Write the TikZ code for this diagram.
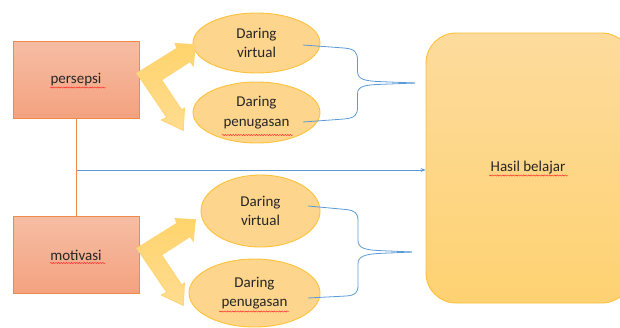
\documentclass[tikz,border=0pt]{standalone}
\usepackage{fontspec}
\setmainfont{Carlito}
\usetikzlibrary{shapes.geometric,decorations.pathmorphing,arrows.meta}
\definecolor{boxtop}{HTML}{F6BDA4}
\definecolor{boxbot}{HTML}{F4A27F}
\definecolor{boxline}{HTML}{F08A4B}
\definecolor{elfill}{HTML}{FDD58C}
\definecolor{elline}{HTML}{FFC13A}
\definecolor{hastop}{HTML}{FDDB9C}
\definecolor{hasbot}{HTML}{FED272}
\definecolor{arrtop}{HTML}{FFD46C}
\definecolor{arrbot}{HTML}{FFDC90}
\definecolor{lnblue}{HTML}{5B9BD5}
\definecolor{txt}{HTML}{262626}
\tikzset{
  srcbox/.style={draw=boxline, line width=0.9pt, top color=boxtop, bottom color=boxbot,
    minimum width=126pt, minimum height=77pt, inner sep=0pt, text=txt},
  oval/.style={ellipse, draw=elline, line width=0.9pt, fill=elfill, inner sep=0pt,
    align=center, text=txt},
  hasbox/.style={draw=elline, line width=0.9pt, top color=hastop, bottom color=hasbot,
    rounded corners=30pt, minimum width=206pt, minimum height=270pt, text=txt},
  bigarrow/.style={draw=elline!70, line width=0.8pt, top color=arrtop, bottom color=arrbot, line join=miter},
  bluelink/.style={draw=lnblue, line width=0.8pt},
  oline/.style={draw=boxline, line width=0.9pt},
  spell/.style={draw=red!85, line width=0.45pt, decorate, decoration={snake, amplitude=0.6pt, segment length=2.6pt}}
}
\begin{document}
\begin{tikzpicture}[x=1pt,y=-1pt, font=\fontsize{15}{19.5}\selectfont]
\useasboundingbox (0,0) rectangle (620,327);
\begin{scope}
\clip (0,0) rectangle (620,327);
% Hasil belajar
\node[hasbox] (hasil) at (529,168) {};
\node[text=txt] (hasiltxt) at (528,168) {Hasil belajar};
% source boxes
\node[srcbox] (pers) at (76,79.5) {persepsi};
\node[srcbox] (moti) at (76,255) {motivasi};
\draw[oline] (pers.south) -- (moti.north);
% arrow from line to hasil
\coordinate (mid) at (77,170);
\draw[bluelink, -{Stealth[length=5pt,width=4pt]}] (mid) -- (hasil.west |- mid);
% ellipses
\node[oval, minimum width=127pt, minimum height=60pt] (ev1) at (256.5,43) {Daring\\virtual};
\node[oval, minimum width=127pt, minimum height=61pt] (ep1) at (256.5,112.5) {Daring\\penugasan};
\node[oval, minimum width=119pt, minimum height=72pt] (ev2) at (260.5,211) {Daring\\virtual};
\node[oval, minimum width=131pt, minimum height=68pt] (ep2) at (254.5,293) {Daring\\penugasan};
% block arrows
\foreach \dy in {0,175}{
\begin{scope}[yshift=-\dy]
\path[bigarrow] (136.7,73.3) -- (176.7,48.3) -- (175,43.5) -- (195.5,44.5) -- (193.3,66) -- (190,61.7)
  -- (161.7,80) -- (181.7,110) -- (184.5,108) -- (183.3,130.5) -- (161.2,120) -- (166.7,117.3) -- cycle;
\end{scope}}
% braces top
\coordinate (s1) at (303,45);
\coordinate (s2) at (303,122);
\coordinate (b1) at (415,83);
\draw[bluelink] (s1) -- (344,48) .. controls (355,49) and (357.5,52) .. (357.5,61) -- (357.5,71)
  .. controls (357.5,79.5) and (364,81) .. (382,81.7) -- (b1);
\draw[bluelink] (s2) -- (344,119) .. controls (355,118) and (357.5,115) .. (357.5,107) -- (357.5,94)
  .. controls (357.5,86.5) and (364,84.8) .. (382,84.3) -- (b1);
% braces bottom
\coordinate (s3) at (308,206);
\coordinate (s4) at (308,298);
\coordinate (b2) at (412,252);
\draw[bluelink] (s3) -- (346,209.5) .. controls (355,210.5) and (358,213) .. (358,221) -- (358,240)
  .. controls (358,248) and (364,250) .. (382,250.7) -- (b2);
\draw[bluelink] (s4) -- (346,296) .. controls (355,295.5) and (358,293) .. (358,285) -- (358,264)
  .. controls (358,256.5) and (364,254) .. (382,253.3) -- (b2);
% spell-check squiggles
\draw[spell] (50,87.5) -- (106,87.5);
\draw[spell] (50,263) -- (106,263);
\draw[spell] (222,135) -- (293,135);
\draw[spell] (219,311.5) -- (289,311.5);
\draw[spell] (489,175.5) -- (568,175.5);
\end{scope}
\end{tikzpicture}
\end{document}
